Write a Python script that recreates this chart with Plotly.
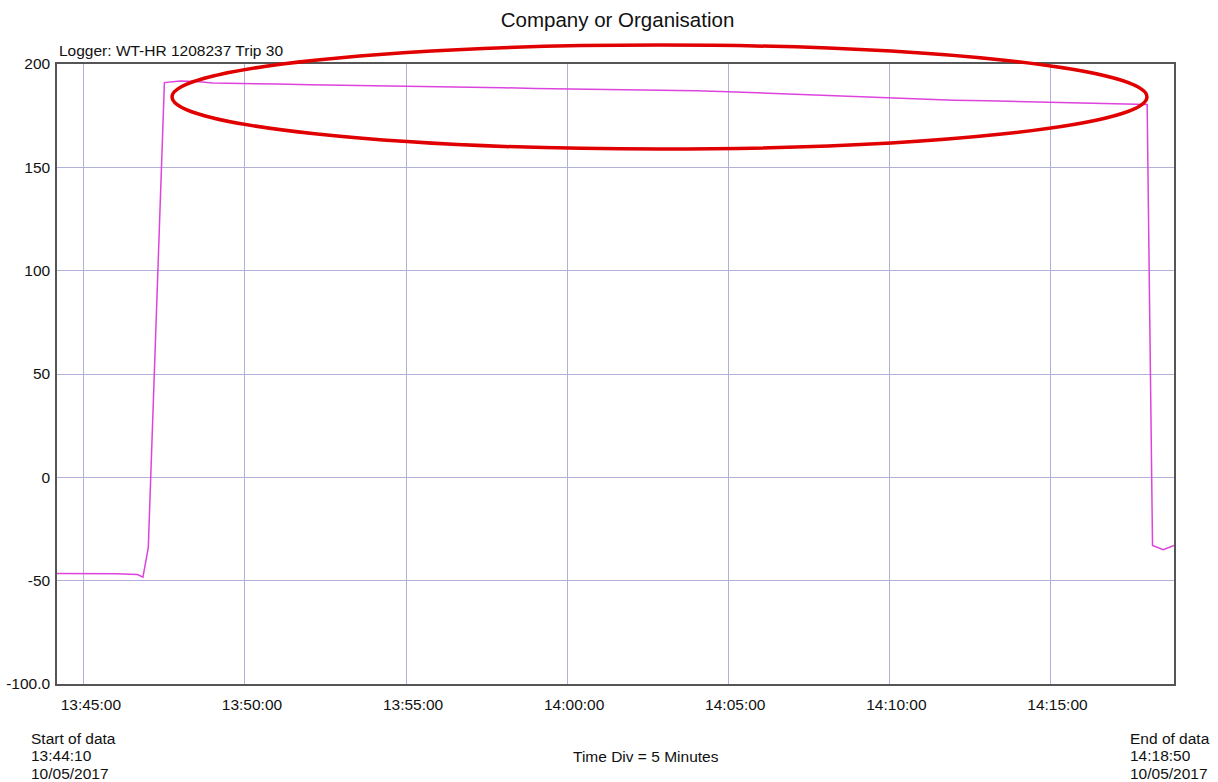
import plotly.graph_objects as go

# Logger readings (time of day, value)
times = [
    "13:44:10", "13:45:00", "13:46:00", "13:46:40", "13:46:50", "13:47:00",
    "13:47:30", "13:48:00", "13:48:30", "13:49:00", "13:50:00", "13:51:00",
    "13:52:00", "13:53:00", "13:54:00", "13:55:00", "13:56:00", "13:57:00",
    "13:58:00", "13:59:00", "14:00:00", "14:01:00", "14:02:00", "14:03:00",
    "14:04:00", "14:05:00", "14:06:00", "14:07:00", "14:08:00", "14:09:00",
    "14:10:00", "14:11:00", "14:12:00", "14:13:00", "14:14:00", "14:15:00",
    "14:16:00", "14:17:00", "14:18:00", "14:18:10", "14:18:30", "14:18:50",
]
values = [
    -46.5, -46.5, -46.7, -47.0, -48.3, -34.0,
    191.0, 191.8, 191.5, 190.8, 190.4, 190.3,
    190.0, 189.8, 189.4, 189.1, 189.0, 188.7,
    188.5, 188.2, 188.0, 187.8, 187.6, 187.3,
    187.0, 186.6, 186.0, 185.5, 184.8, 184.2,
    183.6, 183.1, 182.5, 182.2, 181.8, 181.3,
    181.0, 180.6, 180.4, -33.0, -35.0, -33.0,
]
day = "2017-05-10"
x_dates = [f"{day} {t}" for t in times]

y_ticks = [-100, -50, 0, 50, 100, 150, 200]
y_tick_text = ["-100.0", "-50", "0", "50", "100", "150", "200"]
x_ticks = ["13:45:00", "13:50:00", "13:55:00", "14:00:00", "14:05:00", "14:10:00", "14:15:00"]

start_lines = ["Start of data", "13:44:10", "10/05/2017"]
end_lines = ["End of data", "14:18:50", "10/05/2017"]
footer = "Time Div = 5 Minutes"

FONT = "Liberation Sans, Arial, sans-serif"
GRID = "#b0b0da"
TXT = 15.5

fig = go.Figure()
fig.add_trace(go.Scatter(
    x=x_dates, y=values, mode="lines",
    line=dict(color="#dd44dd", width=1.5),
    hoverinfo="x+y", showlegend=False,
))

fig.update_layout(
    width=1218, height=782,
    margin=dict(l=57, r=44, t=64, b=98, autoexpand=False),
    paper_bgcolor="white", plot_bgcolor="white",
    font=dict(family=FONT, size=TXT, color="#111111"),
    title=dict(text="Company or Organisation", x=0.507, xanchor="center",
               y=0.975, yanchor="middle", font=dict(size=20.5, family=FONT, color="#111111")),
    xaxis=dict(
        range=[f"{day} 13:44:10", f"{day} 14:18:50"],
        tickvals=[f"{day} {t}" for t in x_ticks], ticktext=x_ticks,
        showgrid=True, gridcolor=GRID, gridwidth=1,
        showline=True, linecolor="#555555", linewidth=1.5, mirror=True,
        ticks="", ticklabelstandoff=6, ticklabelshift=7, zeroline=False,
        automargin=False, tickfont=dict(size=TXT),
    ),
    yaxis=dict(
        range=[-100, 200], tickvals=y_ticks, ticktext=y_tick_text,
        showgrid=True, gridcolor=GRID, gridwidth=1,
        showline=True, linecolor="#555555", linewidth=1.5, mirror=True,
        ticks="", ticklabelstandoff=2, zeroline=False,
        automargin=False, tickfont=dict(size=TXT),
    ),
)

# Highlight ring around the plateau
fig.add_shape(type="circle", xref="paper", yref="paper",
              x0=0.103, x1=0.9758, y0=0.8629, y1=1.0306,
              line=dict(color="#e00000", width=3.5), layer="above")

def note(text, x, y, xanchor="left", yanchor="bottom", xshift=0, yshift=0):
    fig.add_annotation(text=text, xref="paper", yref="paper", x=x, y=y,
                       xanchor=xanchor, yanchor=yanchor, xshift=xshift, yshift=yshift,
                       showarrow=False, align="left",
                       font=dict(size=TXT, family=FONT, color="#111111"))

note("Logger: WT-HR 1208237 Trip 30", 0.0, 1.0, yanchor="middle", yshift=14)

# Footer blocks, one annotation per line (17.5 px line pitch)
for i, line in enumerate(start_lines):
    note(line, 0, 0, yanchor="middle", xshift=-28, yshift=-(54 + 17.5 * i))
for i, line in enumerate(end_lines):
    note(line, 1, 0, yanchor="middle", xshift=-46, yshift=-(54 + 17.5 * i))
note(footer, 0.527, 0, xanchor="center", yanchor="middle", yshift=-72)

fig.write_html("out.html")
